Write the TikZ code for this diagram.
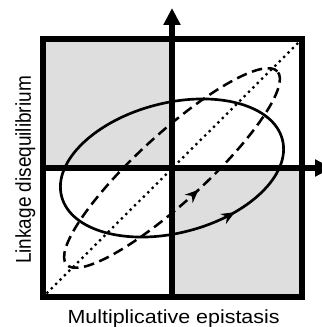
\documentclass[tikz,border=0pt]{standalone}
\usepackage{fontspec}
\setmainfont{Liberation Sans}
\usetikzlibrary{arrows.meta,decorations.markings}
\tikzset{
  frm/.style  = {line width=3.6pt},
  ax/.style   = {line width=3.6pt, -{Triangle[length=12pt,width=11.5pt]}},
  shd/.style  = {fill=black!13},
  sell/.style = {line width=1.9pt},
  dell/.style = {line width=1.8pt, dash pattern=on 7.5pt off 4pt},
  dotl/.style = {line width=2.3pt, line cap=round, dash pattern=on 0pt off 4.4pt},
  mid/.style  = {postaction={decorate}, decoration={markings,
                 mark=at position #1 with {\arrow{Stealth[length=9.5pt,width=8pt]}}}},
  lbl/.style  = {font=\fontsize{13.5}{16}\selectfont, inner sep=0pt, anchor=base,
                 xscale=1.13},
}
\begin{document}
\begin{tikzpicture}
  \useasboundingbox (-4.3,-3.975) rectangle (3.725,4.2);
  \coordinate (o) at (0,0);
  \coordinate (ll) at (-3.225,-3.225);
  \coordinate (ur) at (3.25,3.225);
  \coordinate (xbeg) at (-3.225,0);
  \coordinate (ybeg) at (0,-3.225);
  \coordinate (xtip) at (4.0,0);
  \coordinate (ytip) at (0,4.0);
  % shaded quadrants
  \fill[shd] (xbeg) rectangle (0,3.225);
  \fill[shd] (ybeg) rectangle (3.25,0);
  \draw[dotl] (ll) -- (ur);
  % the two loops
  \draw[dell, mid=0.758, rotate=42.5] (o) ellipse [x radius=3.575, y radius=0.85];
  \draw[sell, mid=0.838, shift={(0,0.025)}, rotate=14.4] (o) ellipse [x radius=2.85, y radius=1.625];
  % axes and frame
  \draw[ax] (ybeg) -- (ytip);
  \draw[ax] (xbeg) -- (xtip);
  \draw[frm] (ll) rectangle (ur);
  \node[lbl] (xlab) at (0.04,-3.875) {Multiplicative epistasis};
  \node[lbl, rotate=90] (ylab) at (-3.525,-0.05) {Linkage disequilibrium};
\end{tikzpicture}
\end{document}
